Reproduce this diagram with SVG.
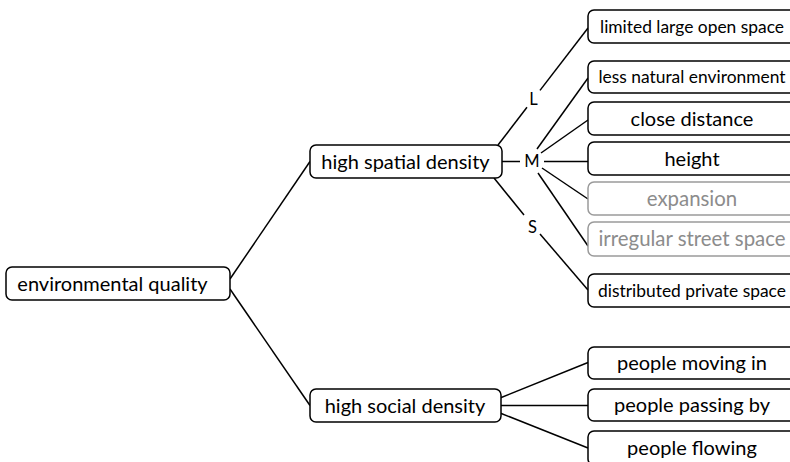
<svg xmlns="http://www.w3.org/2000/svg" width="790" height="462" viewBox="0 0 790 462">
  <style>
    .box { fill: #ffffff; stroke: #000000; stroke-width: 1.5; }
    .box.dim { stroke: #9a9a9a; }
    .lbl { font-family: Lato, "Noto Sans", sans-serif; font-size: 20px; fill: #000000; text-anchor: middle; }
    .lbl.sm { font-size: 17.4px; }
    .lbl.dim { fill: #8c8c8c; font-size: 20.4px; }
    .tag { font-family: Lato, "Noto Sans", sans-serif; font-size: 16.5px; fill: #000000; text-anchor: middle; }
    .edge { fill: none; stroke: #000000; stroke-width: 1.5; }
  </style>

  <!-- connectors -->
  <g id="connectors">
    <line class="edge" x1="230" y1="279" x2="310" y2="161.5"/>
    <line class="edge" x1="230" y1="289" x2="310" y2="405.5"/>
    <!-- L branch -->
    <line class="edge" x1="498" y1="145" x2="527" y2="107.3"/>
    <line class="edge" x1="540" y1="90.4" x2="588" y2="28"/>
    <!-- M branch -->
    <line class="edge" x1="502" y1="161.5" x2="520" y2="161.5"/>
    <line class="edge" x1="544" y1="161.5" x2="588" y2="161.5"/>
    <line class="edge" x1="537" y1="149" x2="588" y2="78"/>
    <line class="edge" x1="541" y1="153" x2="588" y2="120"/>
    <line class="edge" x1="542" y1="168" x2="588" y2="199"/>
    <line class="edge" x1="538" y1="173" x2="588" y2="246"/>
    <!-- S branch -->
    <line class="edge" x1="494" y1="178" x2="524" y2="215"/>
    <line class="edge" x1="540" y1="234" x2="588" y2="290"/>
    <!-- social branch -->
    <line class="edge" x1="500" y1="398" x2="588" y2="362.5"/>
    <line class="edge" x1="501" y1="405.5" x2="588" y2="405.5"/>
    <line class="edge" x1="500" y1="413" x2="588" y2="448"/>
  </g>

  <!-- branch tags -->
  <text class="tag" x="533.5" y="105">L</text>
  <text class="tag" x="532" y="167">M</text>
  <text class="tag" x="532.5" y="233">S</text>

  <g id="environmental-quality">
    <rect class="box" x="6" y="267" width="224" height="33" rx="6"/>
    <text class="lbl" x="112.5" y="291">environmental quality</text>
  </g>

  <g id="high-spatial-density">
    <rect class="box" x="310" y="145" width="192" height="33" rx="6"/>
    <text class="lbl" x="405.5" y="169">high spatial density</text>
  </g>

  <g id="high-social-density">
    <rect class="box" x="310" y="389" width="191" height="33" rx="6"/>
    <text class="lbl" x="405" y="413">high social density</text>
  </g>

  <g id="limited-large-open-space">
    <rect class="box" x="588" y="10" width="210" height="33" rx="6"/>
    <text class="lbl sm" x="692" y="32.5">limited large open space</text>
  </g>

  <g id="less-natural-environment">
    <rect class="box" x="588" y="61" width="210" height="32" rx="6"/>
    <text class="lbl sm" x="692" y="83">less natural environment</text>
  </g>

  <g id="close-distance">
    <rect class="box" x="588" y="102" width="210" height="33" rx="6"/>
    <text class="lbl" x="692" y="126">close distance</text>
  </g>

  <g id="height">
    <rect class="box" x="588" y="142" width="210" height="33" rx="6"/>
    <text class="lbl" x="692" y="166">height</text>
  </g>

  <g id="expansion">
    <rect class="box dim" x="588" y="182" width="210" height="33" rx="6"/>
    <text class="lbl dim" x="692" y="206">expansion</text>
  </g>

  <g id="irregular-street-space">
    <rect class="box dim" x="588" y="222" width="210" height="34" rx="6"/>
    <text class="lbl dim" x="692" y="246">irregular street space</text>
  </g>

  <g id="distributed-private-space">
    <rect class="box" x="588" y="274" width="210" height="33" rx="6"/>
    <text class="lbl sm" x="692" y="296.5">distributed private space</text>
  </g>

  <g id="people-moving-in">
    <rect class="box" x="588" y="347" width="210" height="32" rx="6"/>
    <text class="lbl" x="692" y="370">people moving in</text>
  </g>

  <g id="people-passing-by">
    <rect class="box" x="588" y="389" width="210" height="32" rx="6"/>
    <text class="lbl" x="692" y="412">people passing by</text>
  </g>

  <g id="people-flowing">
    <rect class="box" x="588" y="431" width="210" height="34" rx="6"/>
    <text class="lbl" x="692" y="455">people flowing</text>
  </g>
</svg>
